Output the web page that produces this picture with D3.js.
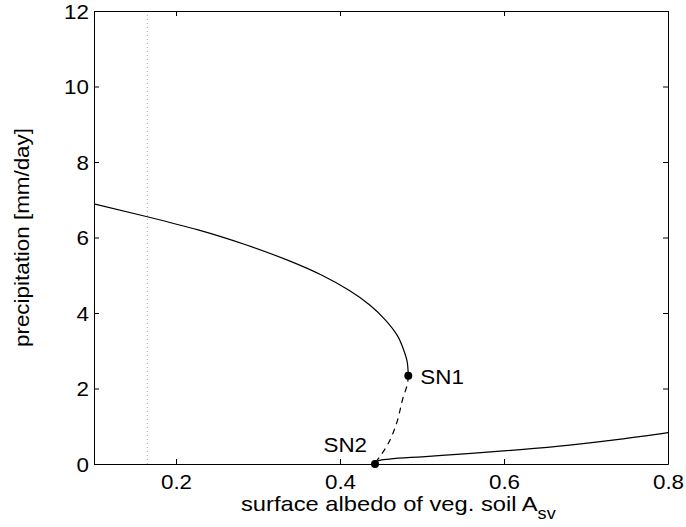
<!DOCTYPE html>
<html lang="en">
<head>
    <meta charset="UTF-8">
    <title>Precipitation vs surface albedo</title>
    <script src="https://d3js.org/d3.v7.min.js"></script>
    <style>
        body { margin: 0; background: #fff; }
        text { font-family: "Liberation Sans", Arial, sans-serif; fill: #000; }
    </style>
</head>
<body>
    <svg id="chart" width="686" height="527"></svg>
    <script>
        // Stable upper branch, listed as [albedo, precipitation]
        const upperBranch = [
            [0.100, 6.89], [0.165, 6.55], [0.227, 6.20], [0.286, 5.80],
            [0.336, 5.40], [0.378, 5.00], [0.411, 4.60], [0.437, 4.20],
            [0.456, 3.80], [0.470, 3.40], [0.478, 3.00], [0.482, 2.70],
            [0.4833, 2.34]
        ];
        // Unstable branch between the two saddle nodes
        const unstableBranch = [
            [0.4833, 2.34], [0.482, 2.10], [0.4772, 1.78], [0.469, 1.08],
            [0.459, 0.55], [0.4427, 0.02]
        ];
        // Stable lower branch
        const lowerBranch = [
            [0.4427, 0.02], [0.447, 0.09], [0.460, 0.13], [0.500, 0.19],
            [0.560, 0.28], [0.620, 0.38], [0.680, 0.50], [0.740, 0.65], [0.800, 0.83]
        ];
        const saddleNodes = [
            { name: "SN1", x: 0.4833, y: 2.34 },
            { name: "SN2", x: 0.4427, y: 0.0 }
        ];
        const referenceAlbedo = 0.165;
        const xTicks = [0.2, 0.4, 0.6, 0.8];
        const yTicks = [0, 2, 4, 6, 8, 10, 12];

        const svg = d3.select("#chart");
        const margin = { top: 11, right: 18, bottom: 63, left: 94 };
        const width = 686 - margin.left - margin.right,
            height = 527 - margin.top - margin.bottom;
        const stretch = 1.12; // reference font is drawn a bit wide

        const x = d3.scaleLinear().domain([0.1, 0.8]).range([0, width]);
        const y = d3.scaleLinear().domain([0, 12]).range([height, 0]);

        const g = svg.append("g")
            .attr("transform", "translate(" + margin.left + "," + margin.top + ")");

        // dotted reference line
        g.append("line")
            .attr("x1", x(referenceAlbedo)).attr("x2", x(referenceAlbedo))
            .attr("y1", 0).attr("y2", height)
            .attr("stroke", "#aaa").attr("stroke-width", 1)
            .attr("stroke-dasharray", "1,3");

        const line = d3.line().x(d => x(d[0])).y(d => y(d[1]));

        g.append("path").datum(upperBranch)
            .attr("d", line.curve(d3.curveMonotoneY))
            .attr("fill", "none").attr("stroke", "#000").attr("stroke-width", 1.2);

        g.append("path").datum(unstableBranch)
            .attr("d", line.curve(d3.curveMonotoneY))
            .attr("fill", "none").attr("stroke", "#000").attr("stroke-width", 1.2)
            .attr("stroke-dasharray", "6,5");

        g.append("path").datum(lowerBranch)
            .attr("d", line.curve(d3.curveMonotoneX))
            .attr("fill", "none").attr("stroke", "#000").attr("stroke-width", 1.2);

        // axes, box with inward ticks on all four sides
        const tickLen = 5;
        g.append("g")
            .attr("transform", "translate(0," + height + ")")
            .call(d3.axisBottom(x).tickValues(xTicks).tickFormat(d3.format(".1f"))
                .tickSizeInner(-tickLen).tickSizeOuter(0).tickPadding(11));
        g.append("g")
            .attr("class", "yaxis")
            .call(d3.axisLeft(y).tickValues(yTicks).tickFormat(d3.format("d"))
                .tickSizeInner(-tickLen).tickSizeOuter(0).tickPadding(5));
        g.append("g")
            .call(d3.axisTop(x).tickValues(xTicks).tickFormat("")
                .tickSizeInner(-tickLen).tickSizeOuter(0));
        g.append("g")
            .attr("transform", "translate(" + width + ",0)")
            .call(d3.axisRight(y).tickValues(yTicks).tickFormat("")
                .tickSizeInner(-tickLen).tickSizeOuter(0));

        g.selectAll(".domain").attr("stroke", "#000").attr("stroke-width", 1);
        g.selectAll(".tick line").attr("stroke", "#000");
        g.selectAll(".tick text")
            .style("font-size", "20px")
            .attr("transform", "scale(" + stretch + ",1)");
        g.selectAll(".yaxis .tick text").attr("x", -5 / stretch).attr("dy", "0.36em");

        // saddle-node markers
        g.selectAll(".sn").data(saddleNodes).enter().append("circle")
            .attr("class", "sn")
            .attr("cx", d => x(d.x)).attr("cy", d => y(d.y))
            .attr("r", 4).attr("fill", "#000");

        function stretchedText(px, py, size, anchor) {
            return g.append("text")
                .attr("transform", "translate(" + px + "," + py + ") scale(" + stretch + ",1)")
                .attr("text-anchor", anchor)
                .style("font-size", size + "px");
        }

        stretchedText(x(saddleNodes[0].x) + 12, y(saddleNodes[0].y) + 8, 20, "start")
            .text(saddleNodes[0].name);
        stretchedText(x(saddleNodes[1].x) - 8, y(saddleNodes[1].y) - 12, 20, "end")
            .text(saddleNodes[1].name);

        // axis labels
        const xLabel = g.append("text")
            .attr("transform", "translate(" + (241 - margin.left) + "," + (height + 47) + ") scale(1.13,1)")
            .style("font-size", "21px");
        xLabel.append("tspan").text("surface albedo of veg. soil A");
        xLabel.append("tspan").attr("dy", 8).style("font-size", "16px").text("sv");

        g.append("text")
            .attr("transform", "translate(" + (-65) + "," + (height / 2) + ") rotate(-90) scale(" + stretch + ",1)")
            .attr("text-anchor", "middle")
            .style("font-size", "20px")
            .text("precipitation [mm/day]");
    </script>
</body>
</html>
